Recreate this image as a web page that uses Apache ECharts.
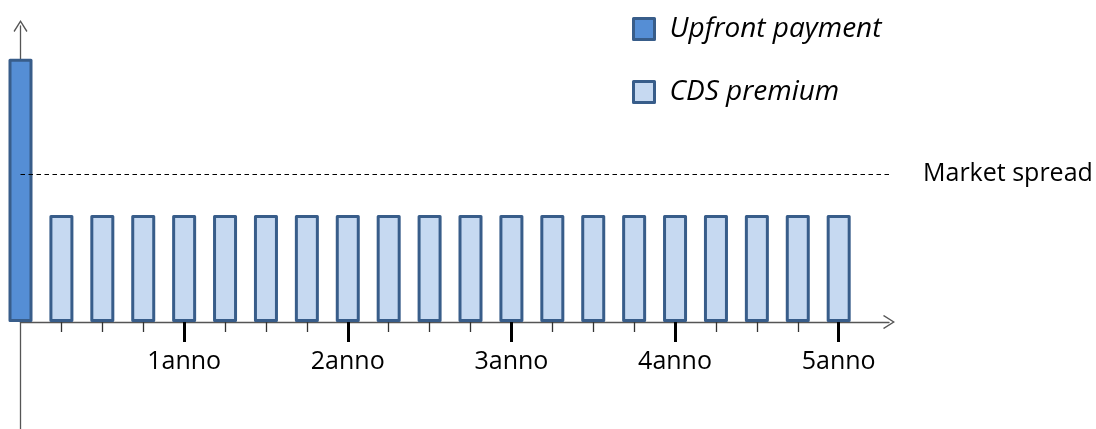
<!DOCTYPE html>
<html>
<head>
<meta charset="utf-8">
<script src="https://cdn.jsdelivr.net/npm/echarts@6/dist/echarts.min.js"></script>
<style>
  html, body { margin: 0; padding: 0; background: #fff; }
  #chart { width: 1096px; height: 429px; }
</style>
</head>
<body>
<div id="chart"></div>
<script>
// Payment schedule: one upfront payment at time 0, then 20 quarterly premiums
const upfrontPeriod = [0];
const upfrontValue = [2.46];
const premiumPeriods = [1, 2, 3, 4, 5, 6, 7, 8, 9, 10, 11, 12, 13, 14, 15, 16, 17, 18, 19, 20];
const premiumValues = [1, 1, 1, 1, 1, 1, 1, 1, 1, 1, 1, 1, 1, 1, 1, 1, 1, 1, 1, 1];
const marketSpread = 1.38;

// Time axis ticks: years are major ticks, remaining quarters are minor ticks
const yearTicks = [4, 8, 12, 16, 20];
const yearLabels = ['1anno', '2anno', '3anno', '4anno', '5anno'];
const quarterTicks = [1, 2, 3, 5, 6, 7, 9, 10, 11, 13, 14, 15, 17, 18, 19];

const seriesNames = ['Upfront payment', 'CDS premium'];
const marketLabel = 'Market spread';

const FONT = '"Open Sans", Lato, sans-serif';
const AXIS_COLOR = '#555555';
const BORDER_COLOR = '#385D8A';

// Open chevron used as the arrow head at the end of both axes
const CHEVRON = 'path://M7,0 L14,11 L12.9,12 L7,2.4 L1.1,12 L0,11 Z';

const X_MIN = 0, X_MAX = 21.23;
const Y_MAX = 2.766;

// Main plot area sits above the time axis; a strip below it carries
// the quarter ticks and the downward continuation of the vertical axis.
const GRID_LEFT = 20.5, GRID_RIGHT = 207, AXIS_Y = 322;

function yearLabel(v) {
  const i = yearTicks.indexOf(Math.round(Number(v)));
  return i >= 0 ? yearLabels[i] : '';
}

const chart = echarts.init(document.getElementById('chart'), null, { renderer: 'canvas' });

chart.setOption({
  animation: false,
  backgroundColor: '#ffffff',
  grid: [
    {
      left: GRID_LEFT, right: GRID_RIGHT, top: 26, bottom: 429 - AXIS_Y,
      containLabel: false, outerBoundsMode: 'none'
    },
    {
      left: GRID_LEFT, right: GRID_RIGHT, top: AXIS_Y, bottom: 0,
      containLabel: false, outerBoundsMode: 'none'
    }
  ],
  legend: {
    orient: 'vertical',
    left: 627,
    top: 10,
    itemWidth: 21,
    itemHeight: 21,
    itemGap: 35,
    icon: 'rect',
    itemStyle: { borderWidth: 3, borderJoin: 'round' },
    textStyle: {
      fontFamily: FONT,
      fontStyle: 'italic',
      fontSize: 28,
      lineHeight: 22,
      color: '#000',
      padding: [0, 0, 0, 10]
    },
    data: seriesNames
  },
  xAxis: [
    {
      gridIndex: 0,
      type: 'value',
      min: X_MIN,
      max: X_MAX,
      position: 'bottom',
      axisLine: {
        show: true,
        onZero: false,
        symbol: ['none', CHEVRON],
        symbolSize: [14, 12],
        lineStyle: { color: AXIS_COLOR, width: 1.3 }
      },
      splitLine: { show: false },
      axisTick: {
        show: true,
        customValues: yearTicks,
        length: 20,
        lineStyle: { color: '#000', width: 3 }
      },
      axisLabel: {
        show: true,
        customValues: yearTicks,
        margin: 27,
        fontFamily: FONT,
        fontSize: 25,
        color: '#000',
        formatter: yearLabel
      }
    },
    {
      gridIndex: 1,
      type: 'value',
      min: X_MIN,
      max: X_MAX,
      position: 'top',
      axisLine: { show: true, onZero: false, lineStyle: { opacity: 0 } },
      splitLine: { show: false },
      axisTick: {
        show: true,
        inside: true,
        customValues: quarterTicks,
        length: 10,
        lineStyle: { color: '#333', width: 1.3 }
      },
      axisLabel: { show: false }
    }
  ],
  yAxis: [
    {
      gridIndex: 0,
      type: 'value',
      min: 0,
      max: Y_MAX,
      axisLine: {
        show: true,
        onZero: false,
        symbol: ['none', CHEVRON],
        symbolSize: [14, 12],
        lineStyle: { color: AXIS_COLOR, width: 1.3 }
      },
      axisTick: { show: false },
      axisLabel: { show: false },
      splitLine: { show: false }
    },
    {
      gridIndex: 1,
      type: 'value',
      min: 0,
      max: 1,
      axisLine: { show: true, onZero: false, lineStyle: { color: AXIS_COLOR, width: 1.3 } },
      axisTick: { show: false },
      axisLabel: { show: false },
      splitLine: { show: false }
    }
  ],
  series: [
    {
      name: seriesNames[0],
      type: 'bar',
      xAxisIndex: 0,
      yAxisIndex: 0,
      barWidth: 24,
      barGap: '-100%',
      clip: false,
      itemStyle: { color: '#558ED5', borderColor: BORDER_COLOR, borderWidth: 3, borderJoin: 'round' },
      data: upfrontPeriod.map((p, i) => [p, upfrontValue[i]]),
      z: 2
    },
    {
      name: seriesNames[1],
      type: 'bar',
      xAxisIndex: 0,
      yAxisIndex: 0,
      barWidth: 24,
      barGap: '-100%',
      itemStyle: { color: '#C6D9F1', borderColor: BORDER_COLOR, borderWidth: 3, borderJoin: 'round' },
      data: premiumPeriods.map((p, i) => [p, premiumValues[i]]),
      markLine: {
        silent: true,
        symbol: ['none', 'none'],
        lineStyle: { color: '#000', type: [4.5, 3.5], width: 1.2 },
        label: {
          show: true,
          position: 'end',
          distance: 34,
          formatter: marketLabel,
          fontFamily: FONT,
          fontSize: 25,
          color: '#000'
        },
        data: [{ yAxis: marketSpread }]
      },
      z: 3
    }
  ]
});
</script>
</body>
</html>
